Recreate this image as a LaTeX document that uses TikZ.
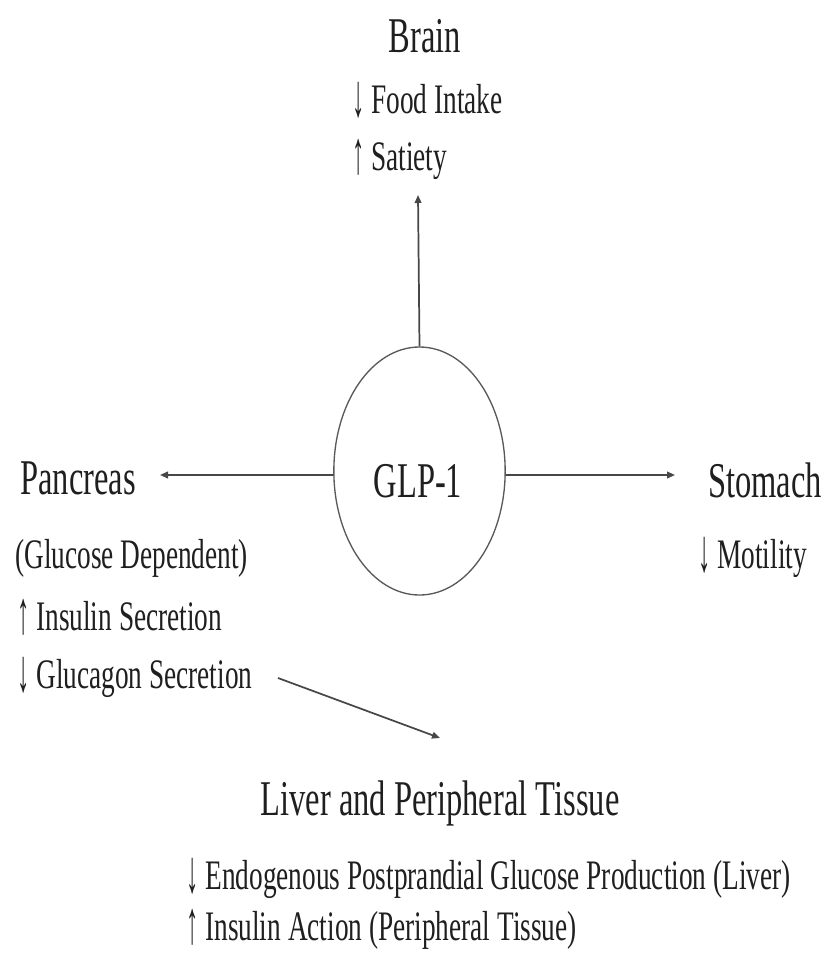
\documentclass[tikz,border=0pt]{standalone}
\usepackage{fontspec}
\setmainfont{Liberation Serif}[FakeStretch=0.65]
\usetikzlibrary{arrows.meta,shapes.geometric}
\newcommand\dnar{\smash{\raisebox{-0.2ex}{\scalebox{0.9}[1.45]{↓}}}}
\newcommand\upar{\smash{\raisebox{-0.2ex}{\scalebox{0.9}[1.45]{↑}}}}
\tikzset{
  big/.style={font=\fontsize{37.5}{40}\selectfont, inner sep=0pt, text=black!88},
  small/.style={font=\fontsize{31.5}{34}\selectfont, inner sep=0pt, text=black!88},
  conn/.style={draw=black!72, line width=1.3pt, -{Triangle[length=6pt,width=5pt]}},
}
\begin{document}
\begin{tikzpicture}[x=0.75pt,y=-0.75pt]
\useasboundingbox (0,0) rectangle (838,954);
% central circle
\node[ellipse, draw=black!65, line width=1pt, minimum width=128.5pt, minimum height=186pt, inner sep=0pt] (glp) at (419.5,471) {};
\node[big, anchor=base] (glplabel) at (418,497) {GLP-1};
% Brain
\node[big, anchor=base] (brain) at (425,52) {Brain};
\node[small, anchor=base west] (food) at (352,113) {\dnar\ Food Intake};
\node[small, anchor=base west] (sat) at (352,170) {\upar\ Satiety};
\coordinate (brainend) at (418,195);
% Pancreas
\node[big, anchor=base west] (pan) at (20,494) {Pancreas};
\node[small, anchor=base west] (gd) at (15,568) {(Glucose Dependent)};
\node[small, anchor=base west] (ins) at (17,630) {\upar\ Insulin Secretion};
\node[small, anchor=base west] (glu) at (17,688) {\dnar\ Glucagon Secretion};
\coordinate (panend) at (160,475);
% Stomach
\node[big, anchor=base west] (sto) at (708,497) {Stomach};
\node[small, anchor=base west] (mot) at (698,568) {\dnar\ Motility};
\coordinate (stoend) at (675,475);
% Liver
\node[big, anchor=base] (liv) at (440,815) {Liver and Peripheral Tissue};
\node[small, anchor=base west] (endo) at (186,889) {\dnar\ Endogenous Postprandial Glucose Production (Liver)};
\node[small, anchor=base west] (ia) at (186,940) {\upar\ Insulin Action (Peripheral Tissue)};
\coordinate (diagstart) at (278,678);
\coordinate (diagend) at (440,738);
% connectors
\draw[conn] (glp.north) -- (brainend);
\draw[conn] (glp.west |- panend) -- (panend);
\draw[conn] (glp.east |- stoend) -- (stoend);
\draw[conn] (diagstart) -- (diagend);
\end{tikzpicture}
\end{document}
